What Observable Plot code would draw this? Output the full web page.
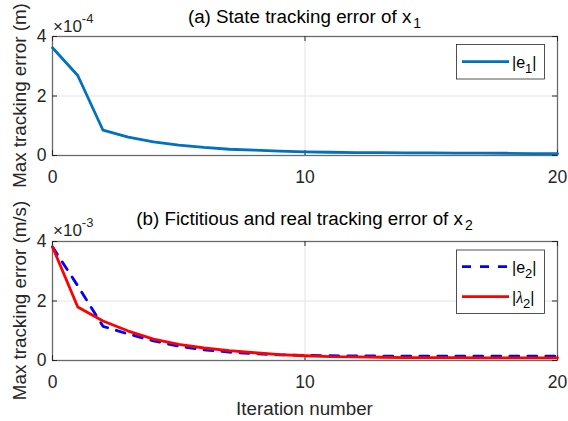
<!DOCTYPE html>
<html>
<head>
<meta charset="utf-8">
<script src="https://cdn.jsdelivr.net/npm/d3@7"></script>
<script src="https://cdn.jsdelivr.net/npm/@observablehq/plot@0.6"></script>
<style>
  html, body { margin: 0; padding: 0; background: #fff; }
  #wrap { position: relative; width: 568px; height: 421px; overflow: hidden; font-family: "Liberation Sans", Arial, sans-serif; }
  #wrap > .plotA, #wrap > .plotB, #wrap > svg.overlay { position: absolute; left: 0; }
  svg.overlay { top: 0; pointer-events: none; }
</style>
</head>
<body>
<div id="wrap"></div>
<script>
// ---- data ----
const iterations = [0,1,2,3,4,5,6,7,8,9,10,11,12,13,14,15,16,17,18,19,20];
// |e1|, units of 1e-4 m
const e1 = [3.62,2.69,0.85,0.62,0.46,0.35,0.27,0.21,0.18,0.145,0.12,0.11,0.10,0.095,0.09,0.085,0.08,0.08,0.075,0.065,0.06];
// |e2|, units of 1e-3 m/s
const e2 = [3.82,2.51,1.15,0.89,0.66,0.48,0.36,0.28,0.23,0.19,0.17,0.16,0.155,0.15,0.15,0.15,0.145,0.145,0.145,0.145,0.145];
// |lambda2|, units of 1e-3 m/s
const lambda2 = [3.82,1.80,1.33,0.99,0.72,0.54,0.42,0.33,0.26,0.20,0.16,0.13,0.12,0.11,0.10,0.10,0.095,0.09,0.09,0.09,0.09];
const xTicks = [0,10,20];
const yTicks = [0,2,4];
const xDomain = [0,20];
const yDomain = [0,4];
const exponents = ["-4","-3"];

const W = 568, ML = 52, MR = 11, innerH = 119, innerW = W - ML - MR;
const axisColor = "#262626", frameColor = "#6a6a6a", gridColor = "#e3e3e3";
const font = "Liberation Sans, Arial, sans-serif";

function subplot(series, opts) {
  const marks = [
    Plot.ruleX(xTicks, {x: d => d, stroke: gridColor, strokeWidth: 1}),
    Plot.ruleY(yTicks, {y: d => d, stroke: gridColor, strokeWidth: 1}),
    Plot.frame({stroke: frameColor, strokeWidth: 1.3}),
    Plot.tickX(xTicks, {x: d => d, insetTop: innerH - 5, stroke: axisColor}),
    Plot.tickX(xTicks, {x: d => d, insetBottom: innerH - 5, stroke: axisColor}),
    Plot.tickY(yTicks, {y: d => d, insetRight: innerW - 5, stroke: axisColor}),
    Plot.tickY(yTicks, {y: d => d, insetLeft: innerW - 5, stroke: axisColor}),
    Plot.axisX({ticks: xTicks, tickSize: 0, tickPadding: 15, fontSize: 17.5, tickFormat: d => d, fill: axisColor}),
    Plot.axisY({ticks: yTicks, tickSize: 0, tickPadding: 6, fontSize: 17.5, tickFormat: d => d, fill: axisColor})
  ];
  for (const s of series) {
    const data = iterations.map((it, i) => ({it, v: s.values[i]}));
    marks.push(Plot.line(data, {x: "it", y: "v", stroke: s.color, strokeWidth: 2.8, strokeDasharray: s.dash, strokeLinejoin: "round"}));
  }
  return Plot.plot({
    width: W,
    height: opts.height,
    marginLeft: ML, marginRight: MR, marginTop: opts.top, marginBottom: opts.height - opts.top - innerH,
    x: {domain: xDomain, label: null},
    y: {domain: yDomain, label: null},
    style: {fontFamily: font, fontSize: "17px", color: axisColor, background: "transparent"},
    marks
  });
}

const wrap = document.getElementById("wrap");
const pA = subplot([{values: e1, color: "#0072BD"}], {height: 200, top: 36});
pA.classList.add("plotA"); pA.style.top = "0px";
wrap.appendChild(pA);
const pB = subplot([
  {values: e2, color: "#0000FF", dash: "9,9"},
  {values: lambda2, color: "#FF0000"}
], {height: 221, top: 41});
pB.classList.add("plotB"); pB.style.top = "200px";
wrap.appendChild(pB);

// ---- overlay text: titles, labels, exponents, legends ----
const svg = d3.select(wrap).append("svg").attr("class", "overlay")
  .attr("width", W).attr("height", 421)
  .style("font-family", font);
const cx = ML + innerW / 2;

function title(y, main, sub) {
  const t = svg.append("text").attr("x", cx).attr("y", y).attr("text-anchor", "middle")
    .attr("font-size", 18.8).attr("fill", "#000");
  t.append("tspan").text(main);
  t.append("tspan").attr("dx", 2).attr("dy", 5).attr("font-size", 14).text(sub);
}
title(23, "(a) State tracking error of x", "1");
title(225, "(b) Fictitious and real tracking error of x", "2");

function ylabel(cy, txt) {
  svg.append("text").attr("transform", `translate(26,${cy}) rotate(-90)`)
    .attr("text-anchor", "middle").attr("font-size", 18.8).attr("fill", axisColor).text(txt);
}
ylabel(95.5, "Max tracking error (m)");
ylabel(300.5, "Max tracking error (m/s)");

svg.append("text").attr("x", cx).attr("y", 415).attr("text-anchor", "middle")
  .attr("font-size", 18.8).attr("fill", axisColor).text("Iteration number");

function expo(y, e) {
  const t = svg.append("text").attr("x", 53).attr("y", y).attr("font-size", 17).attr("fill", axisColor);
  t.append("tspan").text("\u00d710");
  t.append("tspan").attr("dy", -9).attr("font-size", 13).text(e);
}
expo(32, exponents[0]);
expo(236, exponents[1]);

function legend(x0, y0, w, h, items) {
  svg.append("rect").attr("x", x0).attr("y", y0).attr("width", w).attr("height", h)
    .attr("fill", "#fff").attr("stroke", "#262626").attr("stroke-width", 0.8);
  items.forEach(it => {
    svg.append("line").attr("x1", 462).attr("x2", 509).attr("y1", it.y).attr("y2", it.y)
      .attr("stroke", it.color).attr("stroke-width", 2.8)
      .attr("stroke-dasharray", it.dash || null);
    const t = svg.append("text").attr("x", 512).attr("y", it.y + 6).attr("font-size", 16).attr("fill", "#000");
    t.append("tspan").text("|");
    if (it.greek) t.append("tspan").attr("font-family", "Liberation Serif, serif").attr("font-style", "italic").text(it.sym);
    else t.append("tspan").text(it.sym);
    t.append("tspan").attr("dy", 5).attr("font-size", 13).text(it.sub);
    t.append("tspan").attr("dy", -5).text("|");
  });
}
legend(456.5, 44.5, 88, 34.5, [{y: 61.7, color: "#0072BD", sym: "e", sub: "1"}]);
legend(456.5, 250, 88, 63.5, [
  {y: 266.7, color: "#0000FF", dash: "9,9", sym: "e", sub: "2"},
  {y: 296.7, color: "#FF0000", sym: "\u03bb", sub: "2", greek: true}
]);
</script>
</body>
</html>
